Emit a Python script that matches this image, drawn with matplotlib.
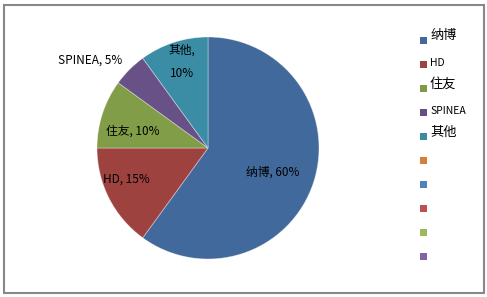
import matplotlib
matplotlib.use("Agg")
import matplotlib.pyplot as plt
from matplotlib.patches import Rectangle

plt.rcParams['font.family'] = ['Noto Sans CJK SC', 'DejaVu Sans']

categories = ['纳博', 'HD', '住友', 'SPINEA', '其他']
values = [60, 15, 10, 5, 10]
slice_colors = ['#41699B', '#9E423F', '#819D47', '#685186', '#3B8DA6']
legend_labels = categories + ['', '', '', '', '']
legend_colors = ['#41699B', '#9E423F', '#7E9A45', '#665083', '#3A8CA3',
                 '#D47F3A', '#4F81BD', '#C0504D', '#9BBB59', '#8064A2']
label_texts = ['纳博, 60%', 'HD, 15%', '住友, 10%', 'SPINEA, 5%', '其他,\n10%']
label_pos = [(273, 172), (126, 179), (133, 131), (90, 60), (182, 62)]

W, H = 487, 297
fig = plt.figure(figsize=(W / 100, H / 100), dpi=100)
ax = fig.add_axes([0, 0, 1, 1])

cx, cy, R = 208, 148, 111
ax.pie(values, colors=slice_colors, startangle=90, counterclock=False,
       radius=R, center=(cx, H - cy),
       wedgeprops=dict(edgecolor=(1, 1, 1, 0.4), linewidth=0.6))
ax.set_xlim(0, W)
ax.set_ylim(0, H)
ax.set_aspect('auto')
ax.axis('off')

for t, (x, y) in zip(label_texts, label_pos):
    ax.text(x, H - y, t, ha='center', va='center', fontsize=8.5, color='black',
            linespacing=2.0)

# border
ax.add_patch(Rectangle((3.5, H - 292.5), 480, 288, fill=False,
                       edgecolor='#888888', linewidth=1.5))

# legend
for i, (lab, col) in enumerate(zip(legend_labels, legend_colors)):
    yc = 40 + 24 * i
    ax.add_patch(Rectangle((420, H - yc - 3.5), 7, 7, facecolor=col, edgecolor='none'))
    if lab:
        is_cjk = any(ord(c) > 0x2E80 for c in lab)
        ax.text(430, H - yc + (4 if is_cjk else 1), lab, ha='left', va='center',
                fontsize=9.5 if is_cjk else 7.5, color='black')

fig.savefig('out.png', dpi=100)
